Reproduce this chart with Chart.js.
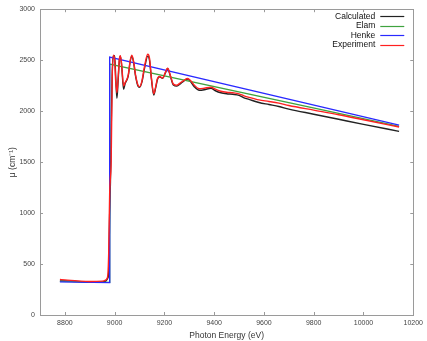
<!DOCTYPE html>
<html><head><meta charset="utf-8">
<script src="https://cdn.jsdelivr.net/npm/chart.js@4"></script>
<style>html,body{margin:0;padding:0;background:#fff}#wrap{width:427px;height:341px}</style>
</head><body><div id="wrap"><canvas id="c" width="427" height="341"></canvas></div>
<script>
const energy = [8780,8800,8850,8900,8950,8965,8972,8976,8980,8983,8986,8990,8995,9000,9004,9009,9014,9019,9023,9028,9036,9042,9049,9055,9062,9069,9076,9085,9093,9100,9110,9120,9133,9140,9148,9157,9165,9172,9180,9193,9203,9213,9222,9236,9250,9265,9280,9293,9305,9320,9340,9360,9387,9405,9427,9450,9475,9500,9520,9540,9580,9620,9660,9700,9800,9900,10000,10143];
const calculated = [335,333,328,323,325,335,360,420,1000,1300,1800,2350,2540,2545,2350,2126,2300,2500,2540,2450,2214,2270,2305,2350,2480,2540,2480,2330,2250,2234,2290,2420,2540,2500,2310,2159,2230,2310,2338,2321,2370,2418,2360,2257,2245,2270,2300,2315,2290,2240,2205,2210,2225,2200,2180,2170,2165,2155,2130,2115,2085,2065,2045,2020,1970,1920,1870,1802];
const experiment = [348,345,335,328,332,345,380,600,1200,1350,1500,2300,2549,2500,2300,2180,2330,2510,2545,2460,2247,2280,2310,2360,2490,2549,2490,2340,2260,2240,2300,2440,2558,2520,2320,2170,2240,2320,2340,2325,2375,2420,2365,2265,2255,2280,2305,2320,2300,2255,2220,2225,2235,2215,2195,2185,2180,2170,2150,2135,2110,2095,2078,2055,2010,1965,1915,1844];
const henkeEnergy = [8780,8980,8980,10143];
const henke = [325,318,2530,1863];
const elamEnergy = [8780,8980,8980,10143];
const elam = [330,320,2461,1850];
const xTicks = [8800,9000,9200,9400,9600,9800,10000,10200];
const yTicks = [0,500,1000,1500,2000,2500,3000];
const seriesNames = ['Calculated','Elam','Henke','Experiment'];
const seriesColors = ['#222222','#3fa33f','#2a2aff','#ff2020'];

function pts(xs, ys){ return xs.map((x,i)=>({x:x,y:ys[i]})); }

const FONT = "'Liberation Sans', Arial, sans-serif";

const framePlugin = {
  id:'frame',
  afterDraw(chart){
    const ctx = chart.ctx, a = chart.chartArea, xs = chart.scales.x, ys = chart.scales.y;
    ctx.save();
    ctx.strokeStyle = '#9a9a9a'; ctx.lineWidth = 1;
    ctx.strokeRect(Math.round(a.left)+0.5, Math.round(a.top)+0.5, Math.round(a.right-a.left), Math.round(a.bottom-a.top));
    ctx.beginPath();
    xs.ticks.forEach(t=>{ const p=Math.round(xs.getPixelForValue(t.value))+0.5;
      ctx.moveTo(p,a.bottom); ctx.lineTo(p,a.bottom-3); ctx.moveTo(p,a.top); ctx.lineTo(p,a.top+3); });
    ys.ticks.forEach(t=>{ const p=Math.round(ys.getPixelForValue(t.value))+0.5;
      ctx.moveTo(a.left,p); ctx.lineTo(a.left+3,p); ctx.moveTo(a.right,p); ctx.lineTo(a.right-3,p); });
    ctx.stroke();
    // legend
    ctx.font = "8.5px " + FONT; ctx.textAlign='right'; ctx.textBaseline='middle'; ctx.fillStyle='#111';
    chart.data.datasets.forEach((d,i)=>{
      const y = a.top + 7 + i*9.5;
      ctx.fillText(d.label, a.right-38, y);
      ctx.strokeStyle = seriesColors[i]; ctx.lineWidth = 1.2;
      ctx.beginPath(); ctx.moveTo(a.right-33, Math.round(y)+0.5); ctx.lineTo(a.right-9, Math.round(y)+0.5); ctx.stroke();
    });
    ctx.restore();
  }
};

new Chart(document.getElementById('c'), {
  type:'line',
  data:{ datasets:[
    {label:seriesNames[0], data:pts(energy,calculated), borderColor:seriesColors[0], cubicInterpolationMode:'monotone', order:4},
    {label:seriesNames[1], data:pts(elamEnergy,elam), borderColor:seriesColors[1], tension:0, order:3},
    {label:seriesNames[2], data:pts(henkeEnergy,henke), borderColor:seriesColors[2], tension:0, order:2},
    {label:seriesNames[3], data:pts(energy,experiment), borderColor:seriesColors[3], cubicInterpolationMode:'monotone', order:1}
  ].map(d=>Object.assign(d,{borderWidth:1.4,pointRadius:0,fill:false}))},
  options:{
    responsive:false, animation:false,
    layout:{padding:{top:7,right:13,left:0,bottom:0}},
    plugins:{legend:{display:false}, tooltip:{enabled:false}},
    scales:{
      x:{type:'linear', min:8700, max:10200,
        afterBuildTicks(s){ s.ticks = xTicks.map(v=>({value:v})); },
        afterFit(s){ s.height = 26; },
        grid:{display:false, drawTicks:false}, border:{display:false},
        ticks:{font:{size:7,family:FONT}, color:'#444', padding:4, maxRotation:0, autoSkip:false, callback:v=>String(v)},
        title:{display:true, text:'Photon Energy (eV)', font:{size:8.5,family:FONT}, color:'#333', padding:{top:3,bottom:0}}
      },
      y:{type:'linear', min:0, max:3000,
        afterBuildTicks(s){ s.ticks = yTicks.map(v=>({value:v})); },
        afterFit(s){ s.width = 40; },
        grid:{display:false, drawTicks:false}, border:{display:false},
        ticks:{font:{size:7,family:FONT}, color:'#444', padding:5, callback:v=>String(v)},
        title:{display:true, text:'μ (cm⁻¹)', font:{size:8.5,family:FONT}, color:'#333', padding:{top:8,bottom:0}}
      }
    }
  },
  plugins:[framePlugin]
});
</script></body></html>
